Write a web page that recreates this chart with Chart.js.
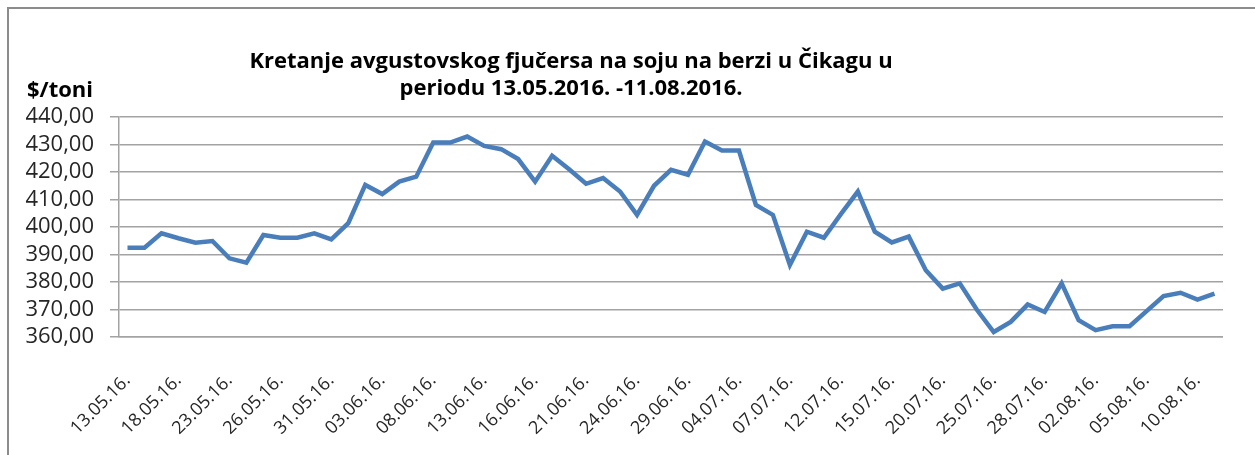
<!DOCTYPE html>
<html>
<head>
<meta charset="utf-8">
<script src="https://cdn.jsdelivr.net/npm/chart.js@4/dist/chart.umd.min.js"></script>
<style>
  html, body { margin: 0; padding: 0; background: #fff; }
  #wrap { width: 1255px; height: 455px; }
</style>
</head>
<body>
<div id="wrap"><canvas id="soyChart" width="1255" height="455"></canvas></div>
<script>
'use strict'
var titleLines = ['Kretanje avgustovskog fjučersa na soju na berzi u Čikagu u', 'periodu 13.05.2016. -11.08.2016.'];
var unitLabel = '$/toni';

var dates = [
    '13.05.16.', '16.05.16.', '17.05.16.', '18.05.16.', '19.05.16.', '20.05.16.', '23.05.16.', '24.05.16.',
    '25.05.16.', '26.05.16.', '27.05.16.', '30.05.16.', '31.05.16.', '01.06.16.', '02.06.16.', '03.06.16.',
    '06.06.16.', '07.06.16.', '08.06.16.', '09.06.16.', '10.06.16.', '13.06.16.', '14.06.16.', '15.06.16.',
    '16.06.16.', '17.06.16.', '20.06.16.', '21.06.16.', '22.06.16.', '23.06.16.', '24.06.16.', '27.06.16.',
    '28.06.16.', '29.06.16.', '30.06.16.', '01.07.16.', '04.07.16.', '05.07.16.', '06.07.16.', '07.07.16.',
    '08.07.16.', '11.07.16.', '12.07.16.', '13.07.16.', '14.07.16.', '15.07.16.', '18.07.16.', '19.07.16.',
    '20.07.16.', '21.07.16.', '22.07.16.', '25.07.16.', '26.07.16.', '27.07.16.', '28.07.16.', '29.07.16.',
    '01.08.16.', '02.08.16.', '03.08.16.', '04.08.16.', '05.08.16.', '08.08.16.', '09.08.16.', '10.08.16.',
    '11.08.16.'
];

var prices = [
    392.5, 392.5, 397.7, 395.9, 394.3, 394.9, 388.6, 387.0, 397.1, 396.1,
    396.1, 397.7, 395.5, 401.4, 415.3, 412.0, 416.5, 418.3, 430.7, 430.7,
    432.9, 429.5, 428.3, 424.7, 416.5, 425.9, 421.0, 415.7, 417.8, 412.9,
    404.4, 415.0, 420.8, 419.0, 431.1, 427.8, 427.8, 408.0, 404.4, 386.2,
    398.3, 396.1, 404.7, 412.9, 398.3, 394.4, 396.5, 384.3, 377.6, 379.5,
    370.0, 361.8, 365.5, 371.8, 369.1, 379.5, 366.1, 362.5, 363.9, 363.9,
    369.4, 374.9, 376.1, 373.6, 375.8
];

var yMin = 360, yMax = 440, yStep = 10;
var labelEvery = 3;

var gridGray = '#a3a3a3';
var textDark = '#262626';

// frame, title and unit label drawn on the canvas
var decorPlugin = {
    id: 'decor',
    beforeDraw: function(chart) {
        var c = chart.ctx;
        c.save();
        c.strokeStyle = '#8c8c8c';
        c.lineWidth = 2;
        c.strokeRect(8, 8, 1270, 470);
        c.restore();
    },
    afterDraw: function(chart) {
        var c = chart.ctx;
        c.save();
        c.fillStyle = '#000';
        c.font = 'bold 22px "Open Sans"';
        c.textAlign = 'center';
        c.textBaseline = 'alphabetic';
        c.fillText(titleLines[0], 571, 68);
        c.fillText(titleLines[1], 571, 95);
        c.textAlign = 'right';
        c.fillText(unitLabel, 93, 97);
        c.restore();
    }
};

var ctx = document.getElementById('soyChart');
var soyChart = new Chart(ctx, {
    type: 'line',
    data: {
        labels: dates,
        datasets: [{
            data: prices,
            borderColor: '#4a7ebb',
            borderWidth: 4.5,
            pointRadius: 0,
            tension: 0,
            fill: false
        }]
    },
    options: {
        responsive: false,
        devicePixelRatio: 1,
        animation: false,
        layout: {
            padding: { top: 117, right: 29, bottom: 0, left: 8 }
        },
        plugins: {
            legend: { display: false },
            title: { display: false },
            tooltip: { enabled: false }
        },
        scales: {
            x: {
                offset: true,
                grid: { display: false },
                border: { color: gridGray, width: 1.5 },
                ticks: {
                    autoSkip: false,
                    maxRotation: 45,
                    minRotation: 45,
                    padding: 25,
                    color: textDark,
                    font: { family: 'Open Sans', size: 18 },
                    callback: function(val, i) {
                        return i % labelEvery === 0 ? dates[i] : '';
                    }
                },
                afterFit: function(scale) { scale.height = 118; }
            },
            y: {
                min: yMin,
                max: yMax,
                grid: { color: gridGray, lineWidth: 1.5, tickLength: 9 },
                border: { color: gridGray, width: 1.5 },
                ticks: {
                    stepSize: yStep,
                    autoSkip: false,
                    padding: 16,
                    color: textDark,
                    font: { family: 'Open Sans', size: 22 },
                    callback: function(v) { return v.toFixed(2).replace('.', ','); }
                },
                afterFit: function(scale) { scale.width = 111; }
            }
        }
    },
    plugins: [decorPlugin]
});
</script>
</body>
</html>
